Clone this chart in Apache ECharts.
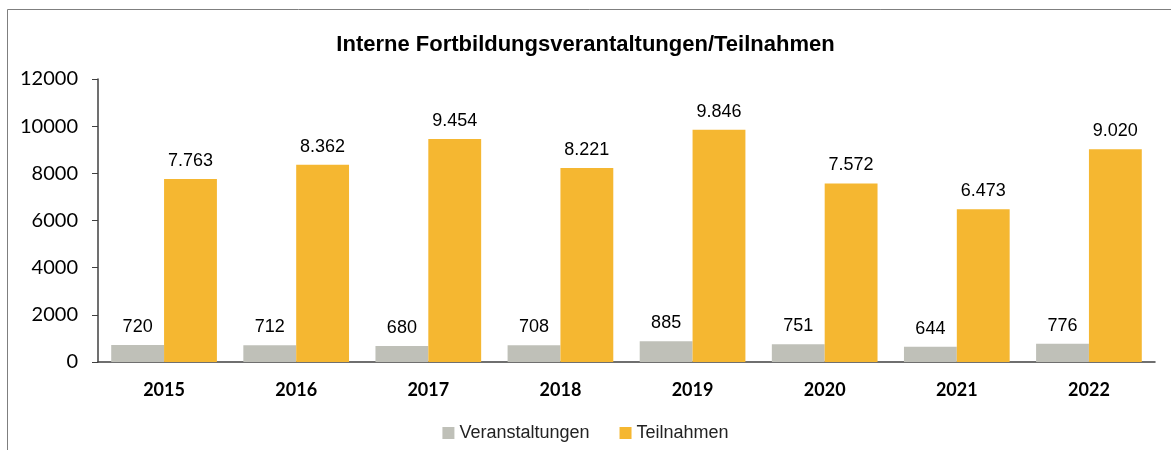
<!DOCTYPE html>
<html>
<head>
<meta charset="utf-8">
<script src="https://cdn.jsdelivr.net/npm/echarts@6/dist/echarts.min.js"></script>
<style>
  html, body { margin: 0; padding: 0; background: #fff; }
  #chart { width: 1171px; height: 450px; }
</style>
</head>
<body>
<div id="chart"></div>
<script>
  // Jahre und Werte
  var years = ['2015', '2016', '2017', '2018', '2019', '2020', '2021', '2022'];
  var veranstaltungen = [720, 712, 680, 708, 885, 751, 644, 776];
  var teilnahmen = [7763, 8362, 9454, 8221, 9846, 7572, 6473, 9020];
  var yTicks = [0, 2000, 4000, 6000, 8000, 10000, 12000];

  function deFormat(v) {
    return String(v).replace(/\B(?=(\d{3})+(?!\d))/g, '.');
  }

  var myChart = echarts.init(document.getElementById('chart'));
  var option = {
    backgroundColor: '#fff',
    animation: false,
    graphic: [{
      type: 'rect',
      shape: { x: 7.5, y: 9.5, width: 1200, height: 500 },
      style: { fill: 'none', stroke: '#7f7f7f', lineWidth: 1 }
    }],
    title: {
      text: 'Interne Fortbildungsverantaltungen/Teilnahmen',
      left: 'center',
      top: 29,
      textStyle: {
        fontFamily: 'Liberation Sans',
        fontWeight: 'bold',
        fontSize: 22,
        color: '#000'
      }
    },
    legend: {
      bottom: 3,
      left: 'center',
      itemWidth: 12,
      itemHeight: 12,
      itemGap: 30,
      icon: 'rect',
      textStyle: {
        fontFamily: 'Liberation Sans',
        fontSize: 18,
        color: '#222'
      }
    },
    grid: {
      left: 98,
      right: 16,
      top: 79,
      bottom: 88
    },
    xAxis: {
      type: 'category',
      data: years,
      axisLine: { lineStyle: { color: '#404040', width: 1.5 } },
      axisTick: { show: false },
      axisLabel: {
        fontFamily: 'Lato',
        fontWeight: 'bold',
        fontSize: 18,
        color: '#000',
        margin: 19
      }
    },
    yAxis: {
      type: 'value',
      min: yTicks[0],
      max: yTicks[yTicks.length - 1],
      interval: 2000,
      axisLine: { show: true, lineStyle: { color: '#404040', width: 1.5 } },
      axisTick: { show: true, length: 6, lineStyle: { color: '#404040' } },
      splitLine: { show: false },
      axisLabel: {
        fontFamily: 'Lato',
        fontSize: 20,
        color: '#000',
        margin: 20,
        formatter: function (v) { return String(v); }
      }
    },
    series: [{
      name: 'Veranstaltungen',
      type: 'bar',
      barGap: '0%',
      barCategoryGap: '20%',
      itemStyle: { color: '#bfc0b8' },
      label: {
        show: true,
        position: 'top',
        distance: 9,
        fontFamily: 'Liberation Sans',
        fontSize: 18,
        color: '#000'
      },
      data: veranstaltungen
    }, {
      name: 'Teilnahmen',
      type: 'bar',
      barGap: '0%',
      barCategoryGap: '20%',
      itemStyle: { color: '#f5b731' },
      label: {
        show: true,
        position: 'top',
        distance: 9,
        fontFamily: 'Liberation Sans',
        fontSize: 18,
        color: '#000',
        formatter: function (p) { return deFormat(p.value); }
      },
      data: teilnahmen
    }]
  };
  myChart.setOption(option);
</script>
</body>
</html>
